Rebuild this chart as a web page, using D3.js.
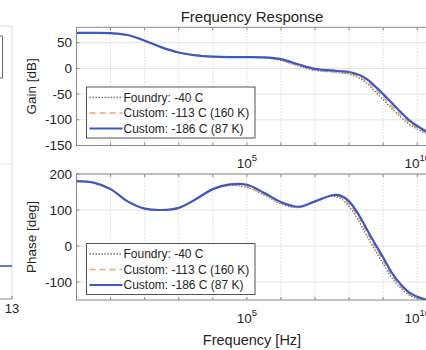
<!DOCTYPE html>
<html><head><meta charset="utf-8">
<script src="https://cdn.jsdelivr.net/npm/d3@7"></script>
<style>html,body{margin:0;padding:0;background:#fff;}svg{display:block;font-family:"Liberation Sans",Arial,sans-serif;}</style>
</head><body>
<script>
// ---- data ----
const freqs = [1, 3.16, 10, 31.6, 100, 316, 1e3, 3.16e3, 1e4, 3.16e4, 1e5, 3.16e5, 1e6, 3.16e6, 1e7, 3.16e7, 5.62e7, 1e8, 2e8, 3.16e8, 5.62e8, 1e9, 1.78e9, 3.16e9, 5.62e9, 1e10, 2e10];
const seriesNames = ["Foundry: -40 C", "Custom: -113 C (160 K)", "Custom: -186 C (87 K)"];
const gainFoundry = [69, 69, 68.5, 65, 54, 41, 31, 25.5, 23, 22, 22, 20.5, 15.5, 5, -4, -7, -9, -11, -19, -28, -44, -61, -78, -94, -108, -118, -128];
const gainC113 = [69, 69, 68.5, 65, 54, 41, 31, 25.5, 23, 22, 22, 21, 16.5, 6, -3, -6, -7.5, -9.5, -16.5, -24.5, -39.5, -56, -73, -89.5, -104.5, -115.5, -126.5];
const gainC186 = [69, 69, 68.5, 65, 54, 41, 31, 25.5, 23, 22, 22, 21.5, 18, 8, -1, -4, -5.5, -7, -13, -20, -34, -50, -67, -84, -100, -112, -124];
const phaseFoundry = [180, 176, 158, 124, 104, 100, 106, 130, 158, 168, 163, 142, 117, 107, 122, 138, 132, 110, 66, 32, -10, -50, -88, -116, -135, -146, -152];
const phaseC113 = [180, 176, 158, 124, 104, 100, 106, 130, 158, 169, 165, 144, 119, 108, 123, 140, 136, 117, 75, 41, -1, -41, -81, -111, -132, -144, -151];
const phaseC186 = [180, 176, 158, 124, 104, 100, 106, 130, 158, 171, 170, 148, 122, 109, 124, 141, 140, 124, 84, 50, 8, -32, -74, -105, -128, -141, -150];
const xTicks = [1, 10, 100, 1e3, 1e4, 1e5, 1e6, 1e7, 1e8, 1e9, 1e10];
const xTickLabels = [[1e5, "10", "5"], [1e10, "10", "10"]];
const gainTicks = [50, 0, -50, -100, -150];
const phaseTicks = [200, 100, 0, -100];

// ---- drawing ----
const W = 426, H = 350;
const svg = d3.select("body").append("svg").attr("width", W).attr("height", H);
const styles = [
  {color: "#6a6a70", width: 1.3, dash: "1.4,1.6"},
  {color: "#f0a468", width: 1.5, dash: "6,4"},
  {color: "#3b58c4", width: 2.2, dash: null}
];
const x = d3.scaleLog().domain([1, 2e10]).range([76.5, 427.5]);
const axisCol = "#8a8a8a", gridCol = "#e4e4e4", textCol = "#262626";

// left fragment of neighbouring panel
const frag = svg.append("g");
frag.append("line").attr("x1", 0).attr("x2", 12).attr("y1", 26).attr("y2", 26).attr("stroke", "#dcdcdc");
frag.append("line").attr("x1", 12).attr("x2", 12).attr("y1", 26).attr("y2", 299).attr("stroke", "#dcdcdc");
frag.append("line").attr("x1", 0).attr("x2", 12).attr("y1", 164).attr("y2", 164).attr("stroke", "#e8e8e8");
frag.append("path").attr("d", "M0,36H2.5V78H0").attr("fill", "none").attr("stroke", "#666");
frag.append("line").attr("x1", 0).attr("x2", 12).attr("y1", 266).attr("y2", 266).attr("stroke", "#3b58c4").attr("stroke-width", 1.6);
frag.append("line").attr("x1", 0).attr("x2", 12.5).attr("y1", 299).attr("y2", 299).attr("stroke", axisCol);
frag.append("line").attr("x1", 12).attr("x2", 12).attr("y1", 299).attr("y2", 296).attr("stroke", axisCol);
frag.append("text").attr("x", 12).attr("y", 313).attr("text-anchor", "middle").attr("font-size", 13).attr("fill", textCol).text("13");

function panel(id, y, ticks, series, ylabel, legendTop, xLabelY) {
  const [x0, x1] = x.range();
  const [yb, yt] = y.range();
  const g = svg.append("g");
  g.append("clipPath").attr("id", id).append("rect").attr("x", x0).attr("y", yt).attr("width", x1 - x0).attr("height", yb - yt);
  // grid
  g.selectAll(".vg").data(xTicks).join("line").attr("x1", d => x(d)).attr("x2", d => x(d)).attr("y1", yt).attr("y2", yb)
    .attr("stroke", "#dadada").attr("stroke-dasharray", "1.5,1.5");
  g.selectAll(".hg").data(ticks).join("line").attr("x1", x0).attr("x2", x1).attr("y1", d => y(d)).attr("y2", d => y(d)).attr("stroke", gridCol);
  // box
  g.append("rect").attr("x", x0).attr("y", yt).attr("width", x1 - x0).attr("height", yb - yt).attr("fill", "none").attr("stroke", axisCol);
  // ticks
  xTicks.forEach(t => {
    g.append("line").attr("x1", x(t)).attr("x2", x(t)).attr("y1", yb).attr("y2", yb - 3).attr("stroke", axisCol);
    g.append("line").attr("x1", x(t)).attr("x2", x(t)).attr("y1", yt).attr("y2", yt + 3).attr("stroke", axisCol);
  });
  ticks.forEach(t => {
    g.append("line").attr("x1", x0).attr("x2", x0 + 3).attr("y1", y(t)).attr("y2", y(t)).attr("stroke", axisCol);
    g.append("text").attr("x", 72).attr("y", y(t) + 4.5).attr("text-anchor", "end").attr("font-size", 13.5).attr("fill", textCol).text(t);
  });
  xTickLabels.forEach(([v, base, ex]) => {
    const t = g.append("text").attr("x", x(v)).attr("y", xLabelY).attr("text-anchor", "middle").attr("font-size", 13.5).attr("fill", textCol);
    t.append("tspan").text(base);
    t.append("tspan").attr("dy", -7).attr("font-size", 9.5).text(ex);
  });
  g.append("text").attr("transform", `translate(36,${(yt + yb) / 2}) rotate(-90)`).attr("text-anchor", "middle")
    .attr("font-size", 13.5).attr("fill", textCol).text(ylabel);
  // lines
  const line = d3.line().x((d, i) => x(freqs[i])).y(d => y(d)).curve(d3.curveCatmullRom.alpha(0.5));
  const lg = g.append("g").attr("clip-path", `url(#${id})`);
  series.forEach((s, i) => {
    lg.append("path").attr("d", line(s)).attr("fill", "none").attr("stroke", styles[i].color)
      .attr("stroke-width", styles[i].width).attr("stroke-dasharray", styles[i].dash);
  });
  // legend
  const lx = 86.5, lw = 168.5, lh = 51;
  const leg = g.append("g");
  leg.append("rect").attr("x", lx).attr("y", legendTop).attr("width", lw).attr("height", lh).attr("fill", "#fff").attr("stroke", "#555");
  seriesNames.forEach((n, i) => {
    const yy = legendTop + 10.5 + i * 15.5;
    leg.append("line").attr("x1", lx + 3).attr("x2", lx + 36).attr("y1", yy).attr("y2", yy).attr("stroke", styles[i].color)
      .attr("stroke-width", styles[i].width).attr("stroke-dasharray", styles[i].dash);
    leg.append("text").attr("x", lx + 37).attr("y", yy + 4).attr("font-size", 12).attr("fill", textCol).text(n);
  });
}

const yGain = d3.scaleLinear().domain([-150, 80]).range([145.5, 27.3]);
const yPhase = d3.scaleLinear().domain([-150, 200]).range([300, 174]);
panel("cg", yGain, gainTicks, [gainFoundry, gainC113, gainC186], "Gain [dB]", 87, 168);
panel("cp", yPhase, phaseTicks, [phaseFoundry, phaseC113, phaseC186], "Phase [deg]", 243.5, 323);

svg.append("text").attr("x", 252).attr("y", 22).attr("text-anchor", "middle").attr("font-size", 15).attr("fill", textCol).text("Frequency Response");
svg.append("text").attr("x", 252).attr("y", 345).attr("text-anchor", "middle").attr("font-size", 14.5).attr("fill", textCol).text("Frequency [Hz]");
</script>
</body></html>
